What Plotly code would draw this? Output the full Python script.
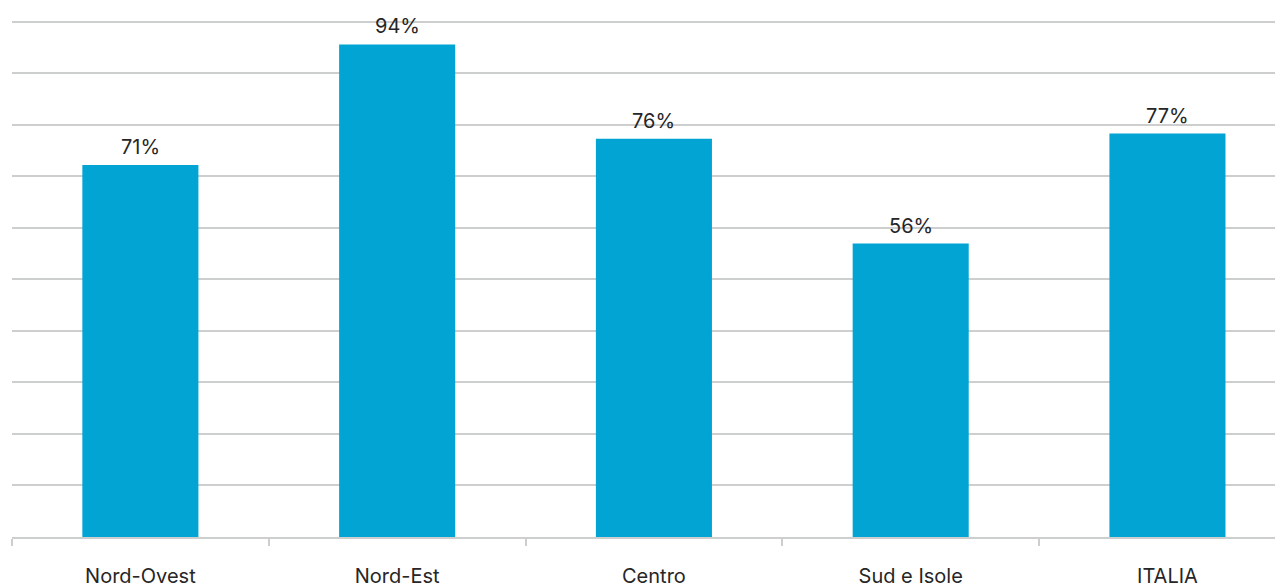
import plotly.graph_objects as go

categories = ["Nord-Ovest", "Nord-Est", "Centro", "Sud e Isole", "ITALIA"]
values = [71, 94, 76, 56, 77]
labels = ["71%", "94%", "76%", "56%", "77%"]

BAR = "#01A4D3"
GRID = "#CDCFCF"
TEXT = "#262626"
FONT = "Inter"

fig = go.Figure()
fig.add_trace(go.Bar(
    x=categories, y=values, marker=dict(color=BAR, line=dict(width=0)),
    width=0.452, hoverinfo="skip",
))

for c, v, t in zip(categories, values, labels):
    fig.add_annotation(x=c, y=v, text=t, showarrow=False, yanchor="bottom",
                       yshift=4, font=dict(family=FONT, size=20, color=TEXT))

fig.update_layout(
    width=1275, height=580, autosize=False,
    margin=dict(l=4, r=0, t=2, b=49),
    plot_bgcolor="white", paper_bgcolor="white",
    showlegend=False,
    font=dict(family=FONT, size=20, color=TEXT),
    xaxis=dict(
        type="category", range=[-0.5, 4.45],
        tickson="boundaries", ticks="outside", ticklen=7, tickwidth=2,
        tickcolor=GRID, showline=True, linecolor=GRID, linewidth=2,
        showgrid=False, ticklabelstandoff=20,
        tickfont=dict(family=FONT, size=20, color=TEXT),
    ),
    yaxis=dict(
        range=[0, 100.57], tick0=0, dtick=9.835, showticklabels=False,
        showgrid=True, gridcolor=GRID, gridwidth=2, zeroline=False,
        ticks="",
    ),
)

fig.write_html("out.html")
